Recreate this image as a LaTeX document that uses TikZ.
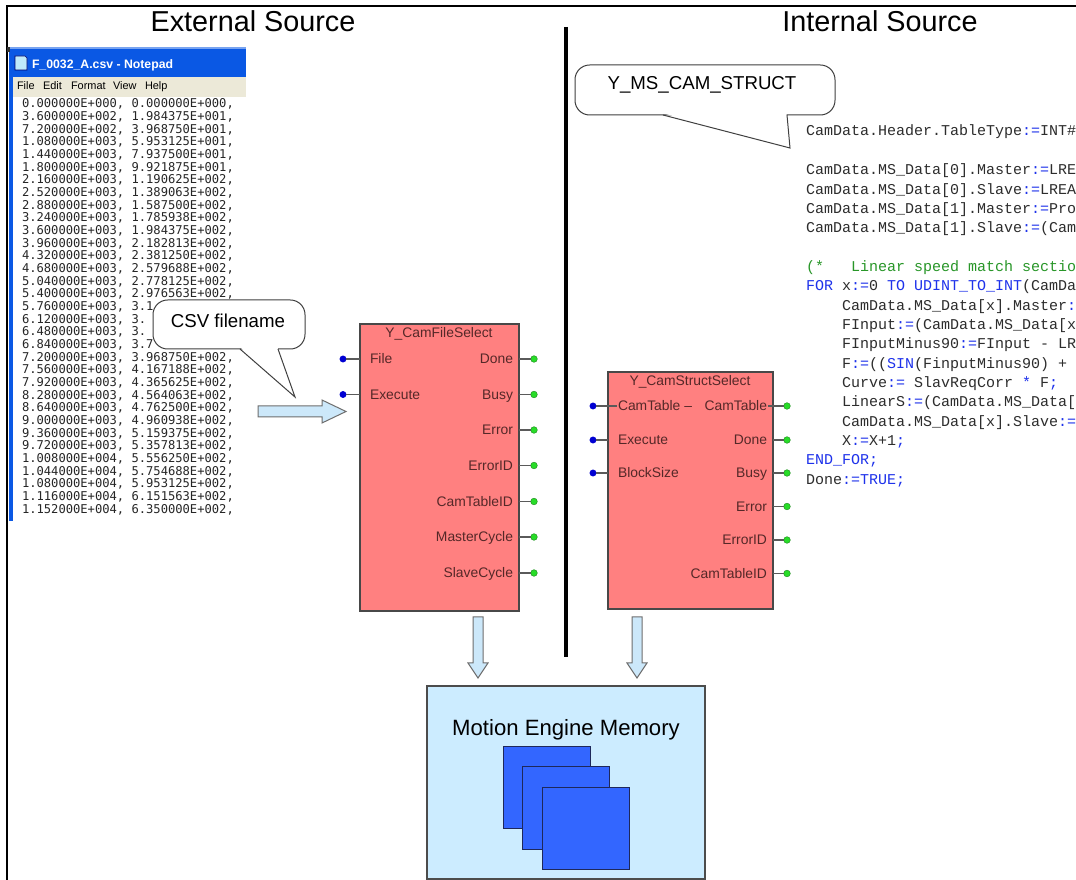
\documentclass[tikz,border=0pt]{standalone}
\usepackage{fontspec}
\setmainfont{Liberation Sans}
\newfontfamily\codefont{Liberation Mono}
\newfontfamily\padfont{DejaVu Sans Mono}
\usetikzlibrary{calc}

\definecolor{blockred}{RGB}{255,128,128}
\definecolor{blockedge}{RGB}{72,72,72}
\definecolor{blocktext}{RGB}{85,40,40}
\definecolor{pinblue}{RGB}{0,0,210}
\definecolor{pingreen}{RGB}{40,220,40}
\definecolor{pinline}{RGB}{90,90,90}
\definecolor{arrowfill}{RGB}{204,232,250}
\definecolor{arrowedge}{RGB}{110,110,110}
\definecolor{memfill}{RGB}{204,236,255}
\definecolor{chipblue}{RGB}{51,102,255}
\definecolor{chipedge}{RGB}{30,40,90}
\definecolor{xpblue}{RGB}{10,88,228}
\definecolor{xpmenu}{RGB}{236,233,216}
\definecolor{codeblue}{RGB}{30,50,235}
\definecolor{codegreen}{RGB}{40,150,40}
\definecolor{codegray}{RGB}{45,45,45}

\newcommand{\kwd}[1]{\textcolor{codeblue}{#1}}

\begin{document}
\begin{tikzpicture}[x=0.75pt,y=-0.75pt,
  every node/.style={inner sep=0pt,outer sep=0pt},
  title/.style={font=\fontsize{21.6}{24}\selectfont,anchor=base},
  padtxt/.style={font=\padfont\fontsize{9.1}{10}\selectfont,text=black!85,anchor=base west},
  menutxt/.style={font=\fontsize{8.2}{9}\selectfont,anchor=base west},
  codetxt/.style={font=\codefont\fontsize{11.25}{12}\selectfont,text=codegray,anchor=base west},
  calloutbox/.style={draw=black!75,fill=white,line width=0.75pt,rounded corners=11pt,anchor=north west},
  callouttxt/.style={font=\fontsize{14}{16}\selectfont,anchor=base},
  fblock/.style={draw=blockedge,fill=blockred,line width=1pt,anchor=north west},
  blocklbl/.style={font=\fontsize{10.4}{12}\selectfont,text=blocktext},
  pinin/.style={circle,fill=pinblue,minimum size=5.2pt},
  pinout/.style={circle,fill=pingreen,draw=pingreen!60!black,line width=0.3pt,minimum size=5pt},
  pinwire/.style={draw=pinline,line width=0.9pt},
  bigarrow/.style={fill=arrowfill,draw=arrowedge,line width=0.75pt,line join=miter},
  chip/.style={fill=chipblue,draw=chipedge,line width=0.75pt}]

\useasboundingbox (0,0) rectangle (1076,880);
\fill[white] (0,0) rectangle (1076,880);

% page frame
\draw[line width=1.3pt] (7,880) -- (7,6) -- (1076,6);

% headings
\node[title] (exttitle) at (253,32) {External Source};
\node[title] (inttitle) at (880,32) {Internal Source};

% divider between the two halves
\coordinate (divtop) at (566,27);
\coordinate (divbot) at (566,657);
\draw[line width=3pt] (divtop) -- (divbot);

% ---------------- Notepad window ----------------
\fill[xpblue] (9,47) rectangle (246,77);
\fill[xpblue!55!white] (9,47) rectangle (246,49);
\fill[black!80] (7,47) rectangle (10,52);
% notepad icon
\fill[white!75!cyan] (15,56) -- (25,56) -- (27,58) -- (27,70) -- (15,70) -- cycle;
\draw[blue!40!black,line width=0.4pt] (15,56) -- (25,56) -- (27,58) -- (27,70) -- (15,70) -- cycle;
\node[anchor=base west,text=white,font=\bfseries\fontsize{9.2}{11}\selectfont] (padtitle) at (32,68.5) {F\_0032\_A.csv - Notepad};
\fill[xpmenu] (13,77) rectangle (246,97);
\node[menutxt] (mfile) at (17,90) {File};
\node[menutxt] (medit) at (43,90) {Edit};
\node[menutxt] (mformat) at (71,90) {Format};
\node[menutxt] (mview) at (113,90) {View};
\node[menutxt] (mhelp) at (145,90) {Help};
\fill[xpblue] (9,77) rectangle (13,521);

% rows of the csv file; rows 16-19 are partly hidden by the callout
\foreach \a/\b [count=\i from 0] in {
  0.000000E+000/0.000000E+000, 3.600000E+002/1.984375E+001,
  7.200000E+002/3.968750E+001, 1.080000E+003/5.953125E+001,
  1.440000E+003/7.937500E+001, 1.800000E+003/9.921875E+001,
  2.160000E+003/1.190625E+002, 2.520000E+003/1.389063E+002,
  2.880000E+003/1.587500E+002, 3.240000E+003/1.785938E+002,
  3.600000E+003/1.984375E+002, 3.960000E+003/2.182813E+002,
  4.320000E+003/2.381250E+002, 4.680000E+003/2.579688E+002,
  5.040000E+003/2.778125E+002, 5.400000E+003/2.976563E+002,
  5.760000E+003/3.1, 6.120000E+003/3., 6.480000E+003/3., 6.840000E+003/3.7}
  {
  \ifnum\i<16
    \node[padtxt] (csv\i) at (22,{108+12.66*\i}) {\a, \b,};
  \else
    \node[padtxt] (csv\i) at (22,{108+12.66*\i}) {\a, \b};
  \fi
  }
\foreach \a/\b [count=\i from 20] in {
  7.200000E+003/3.968750E+002, 7.560000E+003/4.167188E+002,
  7.920000E+003/4.365625E+002, 8.280000E+003/4.564063E+002,
  8.640000E+003/4.762500E+002, 9.000000E+003/4.960938E+002,
  9.360000E+003/5.159375E+002, 9.720000E+003/5.357813E+002,
  1.008000E+004/5.556250E+002, 1.044000E+004/5.754688E+002,
  1.080000E+004/5.953125E+002, 1.116000E+004/6.151563E+002,
  1.152000E+004/6.350000E+002}
  \node[padtxt] (csv\i) at (22,{108+12.66*\i}) {\a, \b,};

% ---------------- structured text listing ----------------
\begin{scope}
\clip (790,100) rectangle (1076,500);
\node[codetxt] (c0) at (806,136) {CamData.Header.TableType\kwd{:=}INT\#};
\node[codetxt] (c2) at (806,174.7) {CamData.MS\_Data[0].Master\kwd{:=}LRE};
\node[codetxt] (c3) at (806,194.1) {CamData.MS\_Data[0].Slave\kwd{:=}LREA};
\node[codetxt] (c4) at (806,213.4) {CamData.MS\_Data[1].Master\kwd{:=}Pro};
\node[codetxt] (c5) at (806,232.8) {CamData.MS\_Data[1].Slave\kwd{:=}(Cam};
\node[codetxt,text=codegreen] (c7) at (806,271.5) {(*\ \ \ Linear speed match sectio};
\node[codetxt] (c8) at (806,290.8) {\kwd{FOR} x\kwd{:=}0 \kwd{TO} \kwd{UDINT\_TO\_INT}(CamDa};
\node[codetxt] (c9) at (842,310.2) {CamData.MS\_Data[x].Master\kwd{:}};
\node[codetxt] (c10) at (842,329.5) {FInput\kwd{:=}(CamData.MS\_Data[x};
\node[codetxt] (c11) at (842,348.9) {FInputMinus90\kwd{:=}FInput - LR};
\node[codetxt] (c12) at (842,368.2) {F\kwd{:=}((\kwd{SIN}(FinputMinus90) +};
\node[codetxt] (c13) at (842,387.6) {Curve\kwd{:=} SlavReqCorr \kwd{*} F\kwd{;}};
\node[codetxt] (c14) at (842,406.9) {LinearS\kwd{:=}(CamData.MS\_Data[};
\node[codetxt] (c15) at (842,426.3) {CamData.MS\_Data[x].Slave\kwd{:=}};
\node[codetxt] (c16) at (842,445.6) {X\kwd{:=}X+1\kwd{;}};
\node[codetxt] (c17) at (806,465.0) {\kwd{END\_FOR;}};
\node[codetxt] (c18) at (806,484.3) {Done\kwd{:=TRUE;}};
\end{scope}

% ---------------- callouts ----------------
\node[calloutbox,minimum width=114pt,minimum height=36.75pt] (csvcall) at (153,300) {};
\coordinate (csvtip) at (295,397);
\fill[white] (240.5,347.5) -- (csvtip) -- (277.5,347.5) -- cycle;
\draw[black!75,line width=0.75pt,line join=miter] (240,349) -- (csvtip) -- (278,349);
\node[callouttxt] (csvlbl) at (228,327.5) {CSV filename};

\node[calloutbox,minimum width=195pt,minimum height=37.5pt] (mscall) at (575,65) {};
\coordinate (mstip) at (790,148);
\fill[white] (664,113.5) -- (mstip) -- (786.5,113.5) -- cycle;
\draw[black!75,line width=0.75pt,line join=miter] (663,115) -- (mstip) -- (787,115);
\node[callouttxt] (mslbl) at (702,90) {Y\_MS\_CAM\_STRUCT};

% ---------------- function block: Y_CamFileSelect ----------------
\node[fblock,minimum width=119.25pt,minimum height=215.25pt] (cfs) at (360,324) {};
\node[blocklbl,anchor=base] (cfstitle) at (439,338) {Y\_CamFileSelect};
\foreach \n/\y/\t in {a/359/File,b/394.5/Execute}{
  \node[pinin] (cfsin\n) at (343,\y) {};
  \draw[pinwire] (cfsin\n) -- (cfs.west |- cfsin\n);
  \node[blocklbl,anchor=base west] (cfsinl\n) at (370,\y+4.8) {\t};
}
\foreach \n/\y/\t in {a/359/Done,b/394.5/Busy,c/430/Error,d/465.5/ErrorID,e/501.5/CamTableID,f/537/MasterCycle,g/573/SlaveCycle}{
  \node[pinout] (cfsout\n) at (534,\y) {};
  \draw[pinwire] (cfs.east |- cfsout\n) -- (cfsout\n);
  \node[blocklbl,anchor=base east] (cfsoutl\n) at (513,\y+4.8) {\t};
}

% ---------------- function block: Y_CamStructSelect ----------------
\node[fblock,minimum width=123.75pt,minimum height=177.75pt] (css) at (608,372) {};
\node[blocklbl,anchor=base] (csstitle) at (690,385.8) {Y\_CamStructSelect};
\node[pinin] (cssina) at (593,406) {};
\coordinate (cssinaend) at (617,406);
\draw[pinwire] (cssina) -- (cssinaend);
\node[blocklbl,anchor=base west] (cssinla) at (618,410.8) {CamTable \textendash};
\foreach \n/\y/\t in {b/440/Execute,c/473/BlockSize}{
  \node[pinin] (cssin\n) at (593,\y) {};
  \draw[pinwire] (cssin\n) -- (css.west |- cssin\n);
  \node[blocklbl,anchor=base west] (cssinl\n) at (618,\y+4.8) {\t};
}
\foreach \n/\y/\t in {a/406/CamTable,b/440/Done,c/473/Busy,d/506.5/Error,e/540/ErrorID,f/573.5/CamTableID}{
  \node[pinout] (cssout\n) at (787,\y) {};
  \draw[pinwire] (css.east |- cssout\n) -- (cssout\n);
  \node[blocklbl,anchor=base east] (cssoutl\n) at (767,\y+4.8) {\t};
}
% the CamTable output wire starts right at its label
\coordinate (cssoutastart) at (768,406);
\draw[pinwire] (cssoutastart) -- (css.east |- cssouta);

% ---------------- block arrows ----------------
\draw[bigarrow] (258,406) -- (322,406) -- (322,400) -- (346,411.5) -- (322,423) -- (322,417) -- (258,417) -- cycle;
\draw[bigarrow] (473,617) -- (483,617) -- (483,663) -- (488,663) -- (478,678) -- (468,663) -- (473,663) -- cycle;
\draw[bigarrow] (632,617) -- (642,617) -- (642,663) -- (647,663) -- (637,678) -- (627,663) -- (632,663) -- cycle;

% ---------------- motion engine memory ----------------
\draw[fill=memfill,draw=black!70,line width=0.9pt] (427,686) rectangle (705,879);
\node[font=\fontsize{16.6}{19}\selectfont,anchor=base] (memlbl) at (566,735) {Motion Engine Memory};
\draw[chip] (503,747) rectangle (590,828);
\draw[chip] (522,767) rectangle (609,849);
\draw[chip] (542,788) rectangle (629,869);

\end{tikzpicture}
\end{document}
